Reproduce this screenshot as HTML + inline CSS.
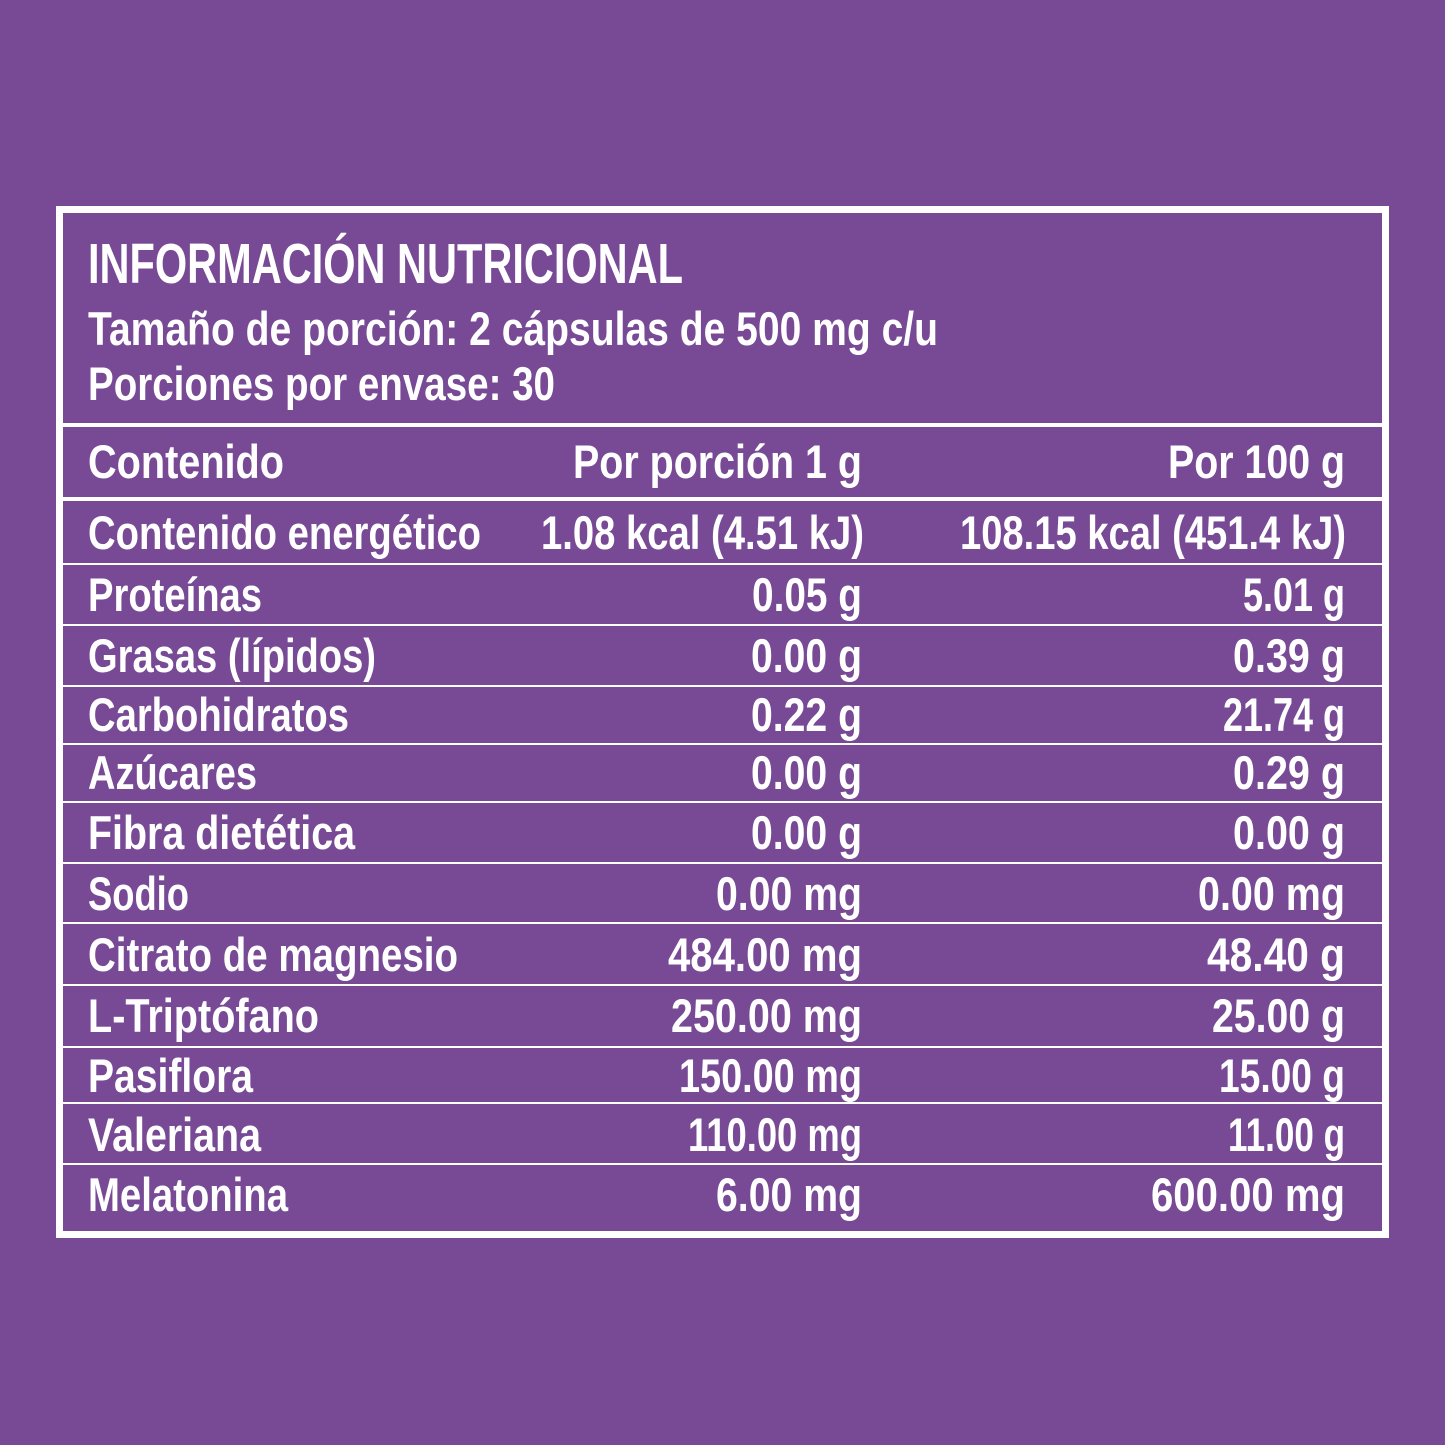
<!DOCTYPE html>
<html><head><meta charset="utf-8"><style>
html,body{margin:0;padding:0;background:#784a96;}
svg{display:block}
text{font-family:"Liberation Sans",sans-serif;fill:#fff;font-weight:bold}
</style></head><body>
<svg width="1445" height="1445" viewBox="0 0 1445 1445" xmlns="http://www.w3.org/2000/svg">
<rect width="1445" height="1445" fill="#784a96"/>
<rect x="59.5" y="209.5" width="1326" height="1025" fill="none" stroke="#fff" stroke-width="7"/>
<rect x="63" y="423" width="1320" height="4" fill="#fff"/>
<rect x="63" y="497" width="1320" height="4" fill="#fff"/>
<g fill="#fff">
<rect x="63" y="563" width="1320" height="2"/>
<rect x="63" y="624" width="1320" height="2"/>
<rect x="63" y="685" width="1320" height="2"/>
<rect x="63" y="743" width="1320" height="2"/>
<rect x="63" y="801" width="1320" height="2"/>
<rect x="63" y="862" width="1320" height="2"/>
<rect x="63" y="922" width="1320" height="2"/>
<rect x="63" y="984" width="1320" height="2"/>
<rect x="63" y="1046" width="1320" height="2"/>
<rect x="63" y="1102" width="1320" height="2"/>
<rect x="63" y="1163" width="1320" height="2"/>
</g>
<text x="88" y="283" font-size="57" textLength="595" lengthAdjust="spacingAndGlyphs">INFORMACIÓN NUTRICIONAL</text>
<text x="88" y="345" font-size="47" textLength="850" lengthAdjust="spacingAndGlyphs">Tamaño de porción: 2 cápsulas de 500 mg c/u</text>
<text x="88" y="400" font-size="47" textLength="467" lengthAdjust="spacingAndGlyphs">Porciones por envase: 30</text>
<text x="88" y="478" font-size="47" textLength="196" lengthAdjust="spacingAndGlyphs">Contenido</text>
<text x="573" y="478" font-size="47" textLength="289" lengthAdjust="spacingAndGlyphs">Por porción 1 g</text>
<text x="1168" y="478" font-size="47" textLength="177" lengthAdjust="spacingAndGlyphs">Por 100 g</text>
<g font-size="47">
<text x="88" y="549" textLength="393" lengthAdjust="spacingAndGlyphs">Contenido energético</text>
<text x="541" y="549" textLength="323" lengthAdjust="spacingAndGlyphs">1.08 kcal (4.51 kJ)</text>
<text x="960" y="549" textLength="386" lengthAdjust="spacingAndGlyphs">108.15 kcal (451.4 kJ)</text>

<text x="88" y="611" textLength="174" lengthAdjust="spacingAndGlyphs">Proteínas</text>
<text x="752" y="611" textLength="110" lengthAdjust="spacingAndGlyphs">0.05 g</text>
<text x="1243" y="611" textLength="102" lengthAdjust="spacingAndGlyphs">5.01 g</text>

<text x="88" y="672" textLength="288" lengthAdjust="spacingAndGlyphs">Grasas (lípidos)</text>
<text x="751" y="672" textLength="111" lengthAdjust="spacingAndGlyphs">0.00 g</text>
<text x="1233" y="672" textLength="112" lengthAdjust="spacingAndGlyphs">0.39 g</text>

<text x="88" y="731" textLength="261" lengthAdjust="spacingAndGlyphs">Carbohidratos</text>
<text x="751" y="731" textLength="111" lengthAdjust="spacingAndGlyphs">0.22 g</text>
<text x="1223" y="731" textLength="122" lengthAdjust="spacingAndGlyphs">21.74 g</text>

<text x="88" y="789" textLength="169" lengthAdjust="spacingAndGlyphs">Azúcares</text>
<text x="751" y="789" textLength="111" lengthAdjust="spacingAndGlyphs">0.00 g</text>
<text x="1233" y="789" textLength="112" lengthAdjust="spacingAndGlyphs">0.29 g</text>

<text x="88" y="849" textLength="267" lengthAdjust="spacingAndGlyphs">Fibra dietética</text>
<text x="751" y="849" textLength="111" lengthAdjust="spacingAndGlyphs">0.00 g</text>
<text x="1233" y="849" textLength="112" lengthAdjust="spacingAndGlyphs">0.00 g</text>

<text x="88" y="910" textLength="101" lengthAdjust="spacingAndGlyphs">Sodio</text>
<text x="716" y="910" textLength="146" lengthAdjust="spacingAndGlyphs">0.00 mg</text>
<text x="1198" y="910" textLength="147" lengthAdjust="spacingAndGlyphs">0.00 mg</text>

<text x="88" y="971" textLength="370" lengthAdjust="spacingAndGlyphs">Citrato de magnesio</text>
<text x="668" y="971" textLength="194" lengthAdjust="spacingAndGlyphs">484.00 mg</text>
<text x="1207" y="971" textLength="138" lengthAdjust="spacingAndGlyphs">48.40 g</text>

<text x="88" y="1032" textLength="231" lengthAdjust="spacingAndGlyphs">L-Triptófano</text>
<text x="671" y="1032" textLength="191" lengthAdjust="spacingAndGlyphs">250.00 mg</text>
<text x="1212" y="1032" textLength="133" lengthAdjust="spacingAndGlyphs">25.00 g</text>

<text x="88" y="1092" textLength="165" lengthAdjust="spacingAndGlyphs">Pasiflora</text>
<text x="679" y="1092" textLength="183" lengthAdjust="spacingAndGlyphs">150.00 mg</text>
<text x="1219" y="1092" textLength="126" lengthAdjust="spacingAndGlyphs">15.00 g</text>

<text x="88" y="1151" textLength="173" lengthAdjust="spacingAndGlyphs">Valeriana</text>
<text x="688" y="1151" textLength="174" lengthAdjust="spacingAndGlyphs">110.00 mg</text>
<text x="1228" y="1151" textLength="117" lengthAdjust="spacingAndGlyphs">11.00 g</text>

<text x="88" y="1211" textLength="200" lengthAdjust="spacingAndGlyphs">Melatonina</text>
<text x="716" y="1211" textLength="146" lengthAdjust="spacingAndGlyphs">6.00 mg</text>
<text x="1151" y="1211" textLength="194" lengthAdjust="spacingAndGlyphs">600.00 mg</text>
</g>
</svg>
</body></html>
